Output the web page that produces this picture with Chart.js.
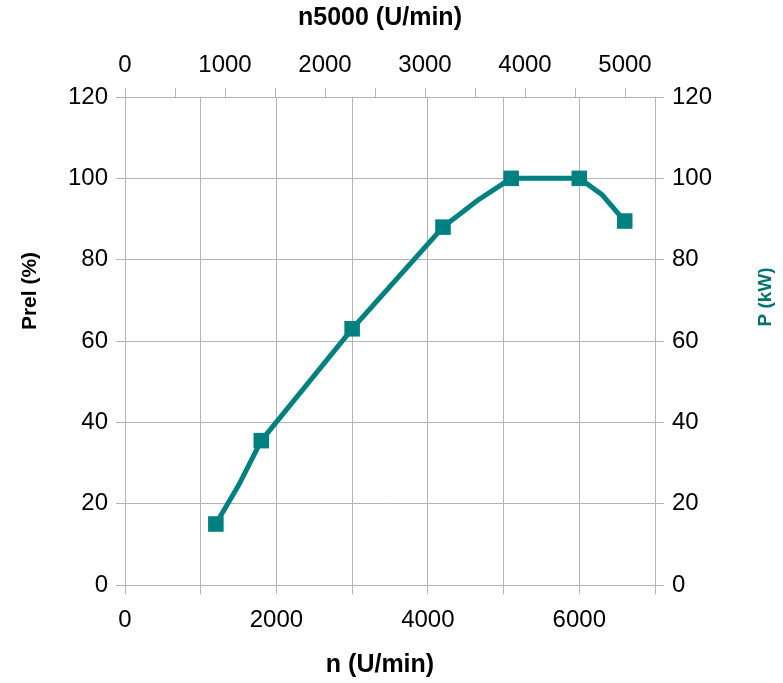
<!DOCTYPE html>
<html lang="de">
<head>
    <meta charset="UTF-8">
    <title>Leistungskurve</title>
    <script src="https://cdn.jsdelivr.net/npm/chart.js"></script>
    <style>
        body {
            margin: 0;
            background-color: #ffffff;
        }
        #wrap {
            width: 783px;
            height: 683px;
        }
    </style>
</head>
<body>
    <div id="wrap">
        <canvas id="powerChart"></canvas>
    </div>

    <script>
        // speed (U/min) and relative power (%)
        const speeds = [1200, 1500, 1800, 3000, 4200, 4650, 5100, 6000, 6300, 6600];
        const power = [15, 24.5, 35.5, 63, 88, 94.5, 100, 100, 96, 89.5];
        // only these speeds carry a square marker
        const markedSpeeds = [1200, 1800, 3000, 4200, 5100, 6000, 6600];

        // axis ranges and the top axis tick positions
        const speedRange = [0, 7000];
        const n5000Range = [0, 5300];
        const n5000Ticks = [0, 500, 1000, 1500, 2000, 2500, 3000, 3500, 4000, 4500, 5000];
        const powerRange = [0, 120];

        const titleBottom = 'n (U/min)';
        const titleTop = 'n5000 (U/min)';
        const titleLeft = 'Prel (%)';
        const titleRight = 'P (kW)';

        const teal = '#008080';
        const tealDark = '#00736e';
        const gridGrey = '#b3b3b3';
        const fontFamily = "'Liberation Sans', Arial, sans-serif";

        const points = speeds.map((s, i) => ({ x: s, y: power[i] }));
        const radii = speeds.map(s => markedSpeeds.includes(s) ? 11 : 0);

        function fixWidth(w) {
            return scale => { scale.width = w; };
        }
        function fixHeight(h) {
            return scale => { scale.height = h; };
        }

        // axis titles drawn by hand: both vertical ones read bottom-to-top,
        // and the original centres them a bit off the plot middle
        const axisTitles = {
            id: 'axisTitles',
            afterDraw(chart) {
                const { ctx, chartArea: a } = chart;
                const midX = (a.left + a.right) / 2 - 10;
                const midY = (a.top + a.bottom) / 2;
                ctx.save();
                ctx.textAlign = 'center';
                ctx.textBaseline = 'middle';
                ctx.fillStyle = '#000';
                ctx.font = 'bold 25px ' + fontFamily;
                ctx.fillText(titleTop, midX, 18);
                ctx.fillText(titleBottom, midX, 665);

                ctx.font = 'bold 21px ' + fontFamily;
                ctx.save();
                ctx.translate(30, midY - 50);
                ctx.rotate(-Math.PI / 2);
                ctx.fillText(titleLeft, 0, 0);
                ctx.restore();

                ctx.font = 'bold 19px ' + fontFamily;
                ctx.fillStyle = tealDark;
                ctx.translate(766, midY - 44);
                ctx.rotate(-Math.PI / 2);
                ctx.fillText(titleRight, 0, 0);
                ctx.restore();
            }
        };

        const tickFont = { family: fontFamily, size: 24 };

        new Chart(document.getElementById('powerChart').getContext('2d'), {
            type: 'line',
            data: {
                datasets: [{
                    label: 'P',
                    data: points,
                    borderColor: teal,
                    backgroundColor: teal,
                    borderWidth: 5,
                    tension: 0,
                    pointStyle: 'rect',
                    pointRadius: radii,
                    pointHoverRadius: radii,
                    pointBorderWidth: 0,
                    pointBackgroundColor: teal,
                    xAxisID: 'x',
                    yAxisID: 'y'
                }]
            },
            options: {
                responsive: true,
                maintainAspectRatio: false,
                animation: false,
                layout: { padding: 0 },
                plugins: {
                    legend: { display: false },
                    tooltip: { enabled: false }
                },
                scales: {
                    x: {
                        type: 'linear',
                        position: 'bottom',
                        min: speedRange[0],
                        max: speedRange[1],
                        afterFit: fixHeight(98),
                        grid: { color: gridGrey, tickLength: 9, lineWidth: 1 },
                        border: { color: gridGrey },
                        ticks: {
                            stepSize: 1000,
                            maxTicksLimit: 20,
                            autoSkip: false,
                            maxRotation: 0,
                            padding: 12,
                            color: '#000',
                            font: tickFont,
                            callback: v => v % 2000 === 0 ? String(v) : ''
                        }
                    },
                    x2: {
                        type: 'linear',
                        position: 'top',
                        min: n5000Range[0],
                        max: n5000Range[1],
                        afterFit: fixHeight(97),
                        afterBuildTicks: scale => {
                            scale.ticks = n5000Ticks.map(v => ({ value: v }));
                        },
                        grid: { drawOnChartArea: false, color: gridGrey, tickLength: 9 },
                        border: { color: gridGrey },
                        ticks: {
                            autoSkip: false,
                            maxRotation: 0,
                            padding: 8,
                            color: '#000',
                            font: tickFont,
                            callback: v => v % 1000 === 0 ? String(v) : ''
                        }
                    },
                    y: {
                        type: 'linear',
                        position: 'left',
                        min: powerRange[0],
                        max: powerRange[1],
                        afterFit: fixWidth(125),
                        grid: { color: gridGrey, tickLength: 9, lineWidth: 1 },
                        border: { color: gridGrey },
                        ticks: {
                            stepSize: 20,
                            padding: 8,
                            color: '#000',
                            font: tickFont
                        }
                    },
                    y2: {
                        type: 'linear',
                        position: 'right',
                        min: powerRange[0],
                        max: powerRange[1],
                        afterFit: fixWidth(128),
                        grid: { drawOnChartArea: false, color: gridGrey, tickLength: 9 },
                        border: { color: gridGrey },
                        ticks: {
                            stepSize: 20,
                            padding: 8,
                            color: '#000',
                            font: tickFont
                        }
                    }
                }
            },
            plugins: [axisTitles]
        });
    </script>
</body>
</html>
